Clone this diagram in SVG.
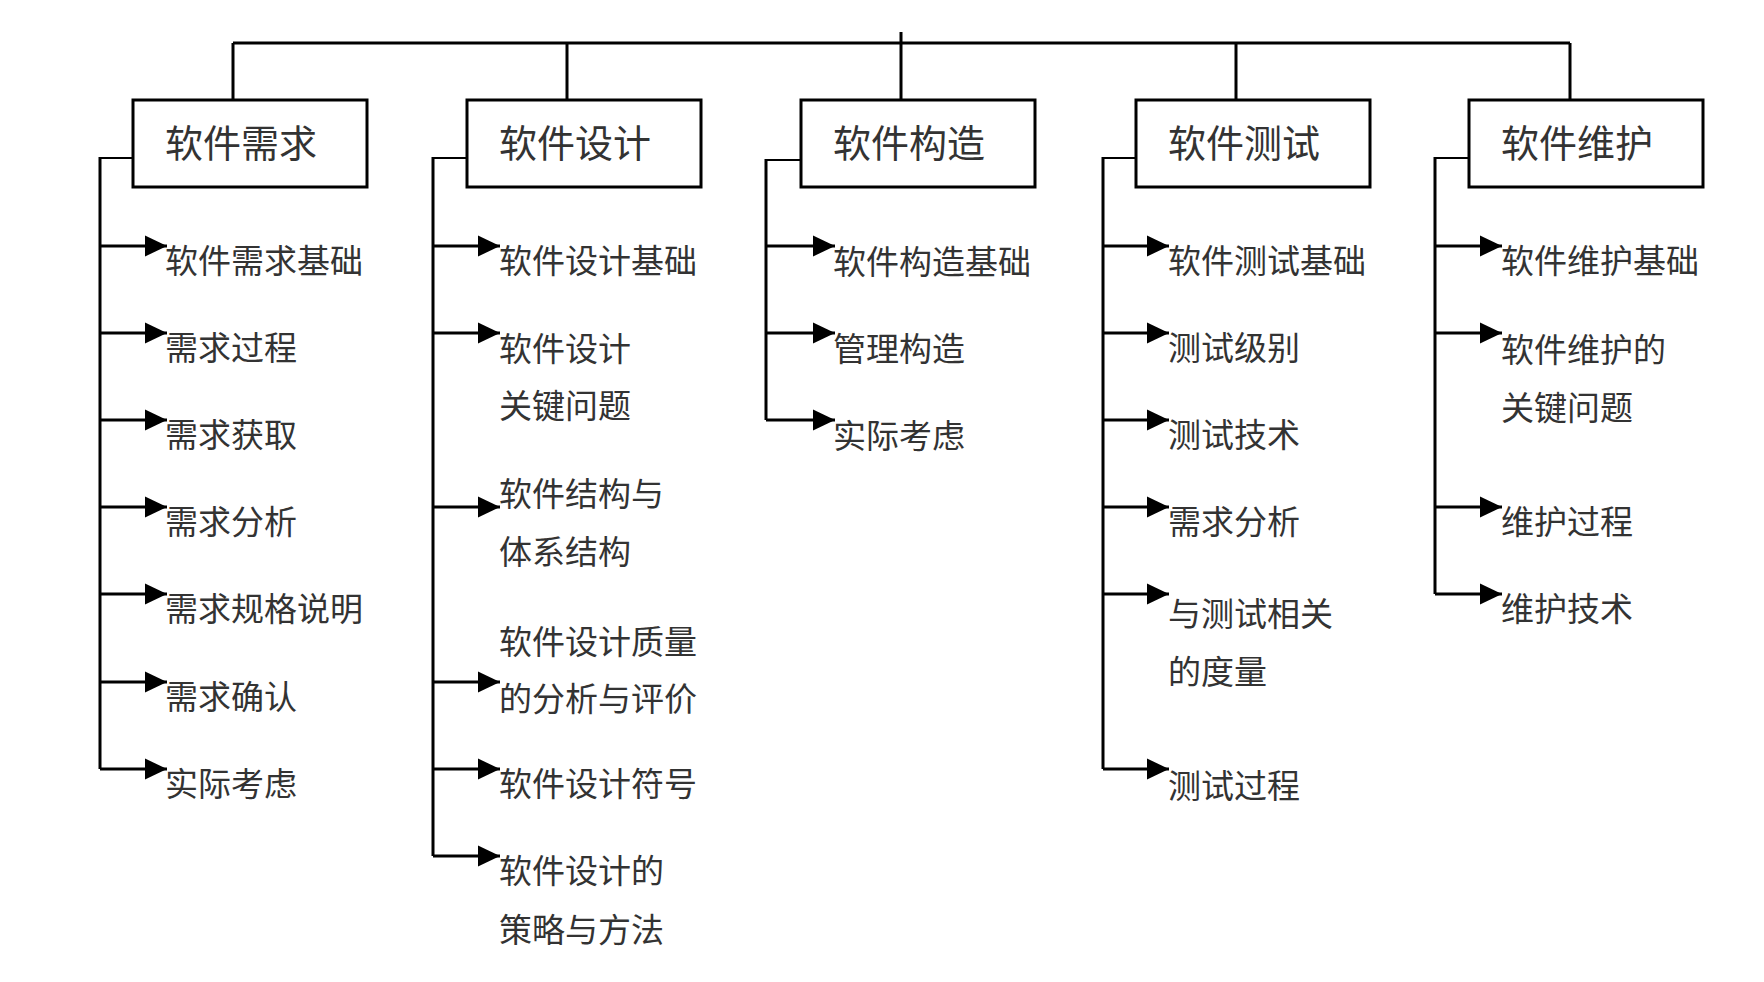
<svg xmlns="http://www.w3.org/2000/svg" width="1764" height="982" viewBox="0 0 1764 982">
<style>
.box{fill:#fff;stroke:#000;stroke-width:3}
.ln{fill:none;stroke:#000;stroke-width:3}
.thin{fill:none;stroke:#000;stroke-width:2}
.ar{fill:none;stroke:#000;stroke-width:3;marker-end:url(#ah)}
.t{font-family:"Noto Sans CJK SC","Noto Sans CJK JP",sans-serif;fill:#333}
.title{font-size:38px}
.item{font-size:33px}
</style>
<defs>
<marker id="ah" markerUnits="userSpaceOnUse" markerWidth="22" markerHeight="22" refX="22" refY="11" orient="auto" overflow="visible">
<path d="M0,0.5 L22,11 L0,21.5 z" fill="#000"/>
</marker>
</defs>
<rect width="1764" height="982" fill="#fff"/>
<g id="connectors">
<path class="ln" d="M233,43 H1570 M901,32 V43 M233,43 V100 M567,43 V100 M901,43 V100 M1236,43 V100 M1570,43 V100"/>
<path class="thin" d="M133,158 H100 M467,158 H433 M801,160 H766 M1136,158 H1103 M1469,158 H1435"/>
<path class="ln" d="M100,157 V769 M433,157 V856 M766,159 V420 M1103,157 V769 M1435,157 V594"/>
<g id="arrows">
<line class="ar" x1="100" y1="246" x2="167" y2="246"/>
<line class="ar" x1="100" y1="333" x2="167" y2="333"/>
<line class="ar" x1="100" y1="420" x2="167" y2="420"/>
<line class="ar" x1="100" y1="507" x2="167" y2="507"/>
<line class="ar" x1="100" y1="594" x2="167" y2="594"/>
<line class="ar" x1="100" y1="682" x2="167" y2="682"/>
<line class="ar" x1="100" y1="769" x2="167" y2="769"/>
<line class="ar" x1="433" y1="246" x2="500" y2="246"/>
<line class="ar" x1="433" y1="333" x2="500" y2="333"/>
<line class="ar" x1="433" y1="507" x2="500" y2="507"/>
<line class="ar" x1="433" y1="682" x2="500" y2="682"/>
<line class="ar" x1="433" y1="769" x2="500" y2="769"/>
<line class="ar" x1="433" y1="856" x2="500" y2="856"/>
<line class="ar" x1="766" y1="246" x2="835" y2="246"/>
<line class="ar" x1="766" y1="333" x2="835" y2="333"/>
<line class="ar" x1="766" y1="420" x2="835" y2="420"/>
<line class="ar" x1="1103" y1="246" x2="1169" y2="246"/>
<line class="ar" x1="1103" y1="333" x2="1169" y2="333"/>
<line class="ar" x1="1103" y1="420" x2="1169" y2="420"/>
<line class="ar" x1="1103" y1="507" x2="1169" y2="507"/>
<line class="ar" x1="1103" y1="594" x2="1169" y2="594"/>
<line class="ar" x1="1103" y1="769" x2="1169" y2="769"/>
<line class="ar" x1="1435" y1="246" x2="1502" y2="246"/>
<line class="ar" x1="1435" y1="333" x2="1502" y2="333"/>
<line class="ar" x1="1435" y1="507" x2="1502" y2="507"/>
<line class="ar" x1="1435" y1="594" x2="1502" y2="594"/>
</g>
</g>
<g id="n-req">
<rect class="box" x="133" y="100" width="234" height="87"/>
<text class="t title" x="165" y="157">软件需求</text>
</g>
<g id="n-des">
<rect class="box" x="467" y="100" width="234" height="87"/>
<text class="t title" x="499" y="157">软件设计</text>
</g>
<g id="n-con">
<rect class="box" x="801" y="100" width="234" height="87"/>
<text class="t title" x="833" y="157">软件构造</text>
</g>
<g id="n-tst">
<rect class="box" x="1136" y="100" width="234" height="87"/>
<text class="t title" x="1168" y="157">软件测试</text>
</g>
<g id="n-mnt">
<rect class="box" x="1469" y="100" width="234" height="87"/>
<text class="t title" x="1501" y="157">软件维护</text>
</g>
<g id="c-req" class="t item">
<text x="165" y="273">软件需求基础</text>
<text x="165" y="360">需求过程</text>
<text x="165" y="447">需求获取</text>
<text x="165" y="534">需求分析</text>
<text x="165" y="621">需求规格说明</text>
<text x="165" y="709">需求确认</text>
<text x="165" y="796">实际考虑</text>
</g>
<g id="c-des" class="t item">
<text x="499" y="273">软件设计基础</text>
<text x="499" y="361">软件设计</text>
<text x="499" y="418">关键问题</text>
<text x="499" y="506">软件结构与</text>
<text x="499" y="564">体系结构</text>
<text x="499" y="654">软件设计质量</text>
<text x="499" y="711">的分析与评价</text>
<text x="499" y="796">软件设计符号</text>
<text x="499" y="883">软件设计的</text>
<text x="499" y="942">策略与方法</text>
</g>
<g id="c-con" class="t item">
<text x="833" y="274">软件构造基础</text>
<text x="833" y="361">管理构造</text>
<text x="833" y="448">实际考虑</text>
</g>
<g id="c-tst" class="t item">
<text x="1168" y="273">软件测试基础</text>
<text x="1168" y="360">测试级别</text>
<text x="1168" y="447">测试技术</text>
<text x="1168" y="534">需求分析</text>
<text x="1168" y="626">与测试相关</text>
<text x="1168" y="684">的度量</text>
<text x="1168" y="798">测试过程</text>
</g>
<g id="c-mnt" class="t item">
<text x="1501" y="273">软件维护基础</text>
<text x="1501" y="362">软件维护的</text>
<text x="1501" y="420">关键问题</text>
<text x="1501" y="534">维护过程</text>
<text x="1501" y="621">维护技术</text>
</g>
</svg>
